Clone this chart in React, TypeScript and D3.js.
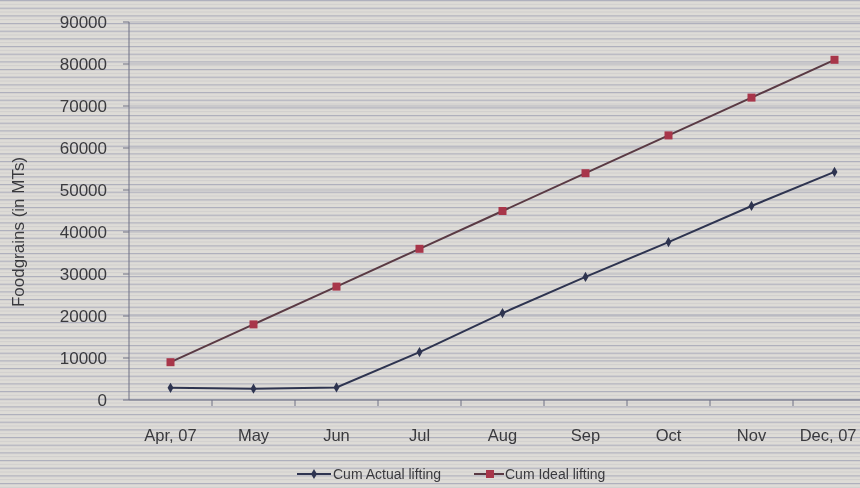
import React from "react";
import * as d3 from "d3";

const categories = ["Apr, 07", "May", "Jun", "Jul", "Aug", "Sep", "Oct", "Nov", "Dec, 07"];
const cumActual = [2900, 2700, 3000, 11400, 20700, 29300, 37600, 46200, 54300];
const cumIdeal = [9000, 18000, 27000, 36000, 45000, 54000, 63000, 72000, 81000];
const yTickValues = [0, 10000, 20000, 30000, 40000, 50000, 60000, 70000, 80000, 90000];
const seriesNames = ["Cum Actual lifting", "Cum Ideal  lifting"];

const W = 860;
const H = 488;
const FONT = "'Liberation Sans', Arial, sans-serif";

export default function App() {
  const x = d3.scaleBand<string>().domain(categories).range([129, 129 + 83 * 9]).padding(0);
  const y = d3.scaleLinear().domain([0, 90000]).range([400, 22]);
  const cx = (c: string) => (x(c) as number) + x.bandwidth() / 2;
  const line = d3
    .line<number>()
    .x((_, i) => cx(categories[i]))
    .y((d) => y(d));

  const actualColor = "#2e3450";
  const idealLine = "#5a3a44";
  const idealMarker = "#a8364a";
  const labelSize = 16.5;
  const labelX = (c: string) => {
    const half = (c.length * 0.5 * labelSize) / 2;
    return Math.min(cx(c), W - 3 - half);
  };

  return (
    <div style={{ position: "fixed", left: 0, top: 0, width: W, height: H }}>
      <svg width={W} height={H} style={{ display: "block" }}>
        <defs>
          <pattern id="scan" width={W} height={23 / 3} patternUnits="userSpaceOnUse">
            <rect width={W} height={23 / 3} fill="#dedcd7" />
            <rect y={0} width={W} height={1.2} fill="#9a9cb2" opacity={0.7} />
            <rect y={3.8} width={W} height={1} fill="#c6c5c8" opacity={0.6} />
          </pattern>
        </defs>
        <rect width={W} height={H} fill="url(#scan)" />

        {/* gridlines */}
        {yTickValues.map((t) => (
          <line key={"g" + t} x1={129} x2={W} y1={y(t)} y2={y(t)} stroke="#8f92a8" strokeWidth={1} opacity={0.5} />
        ))}

        {/* y axis */}
        <line x1={129} x2={129} y1={y(90000)} y2={y(0)} stroke="#6f7184" strokeWidth={1} />
        {yTickValues.map((t) => (
          <g key={"y" + t}>
            <line x1={123} x2={129} y1={y(t)} y2={y(t)} stroke="#6f7184" />
            <text
              x={107}
              y={y(t)}
              dy="0.36em"
              textAnchor="end"
              fontFamily={FONT}
              fontSize={17}
              fill="#3a3a3e"
            >
              {t}
            </text>
          </g>
        ))}

        {/* x axis */}
        <line x1={129} x2={W} y1={y(0)} y2={y(0)} stroke="#6f7184" strokeWidth={1} />
        {categories.map((c) => (
          <g key={"x" + c}>
            <line x1={(x(c) as number) + x.bandwidth()} x2={(x(c) as number) + x.bandwidth()} y1={y(0)} y2={y(0) + 6} stroke="#6f7184" />
            <text x={labelX(c)} y={441} textAnchor="middle" fontFamily={FONT} fontSize={labelSize} fill="#3a3a3e">
              {c}
            </text>
          </g>
        ))}

        {/* y title */}
        <text
          transform={`translate(24, 232) rotate(-90)`}
          textAnchor="middle"
          fontFamily={FONT}
          fontSize={17}
          fill="#3a3a3e"
        >
          Foodgrains (in MTs)
        </text>

        {/* ideal series */}
        <path d={line(cumIdeal) as string} fill="none" stroke={idealLine} strokeWidth={2} />
        {cumIdeal.map((v, i) => (
          <rect key={"i" + i} x={cx(categories[i]) - 4} y={y(v) - 4} width={8} height={8} fill={idealMarker} />
        ))}

        {/* actual series */}
        <path d={line(cumActual) as string} fill="none" stroke={actualColor} strokeWidth={2} />
        {cumActual.map((v, i) => (
          <path
            key={"a" + i}
            d={d3.symbol(d3.symbolDiamond, 30)() as string}
            transform={`translate(${cx(categories[i])},${y(v)})`}
            fill={actualColor}
          />
        ))}

        {/* legend */}
        <g fontFamily={FONT} fontSize={14} fill="#3a3a3e">
          <line x1={297} x2={331} y1={474} y2={474} stroke={actualColor} strokeWidth={2} />
          <path d={d3.symbol(d3.symbolDiamond, 30)() as string} transform="translate(314,474)" fill={actualColor} />
          <text x={333} y={479}>{seriesNames[0]}</text>
          <line x1={474} x2={504} y1={474} y2={474} stroke={idealLine} strokeWidth={2} />
          <rect x={486} y={470} width={8} height={8} fill={idealMarker} />
          <text x={505} y={479}>{seriesNames[1]}</text>
        </g>
      </svg>
    </div>
  );
}
